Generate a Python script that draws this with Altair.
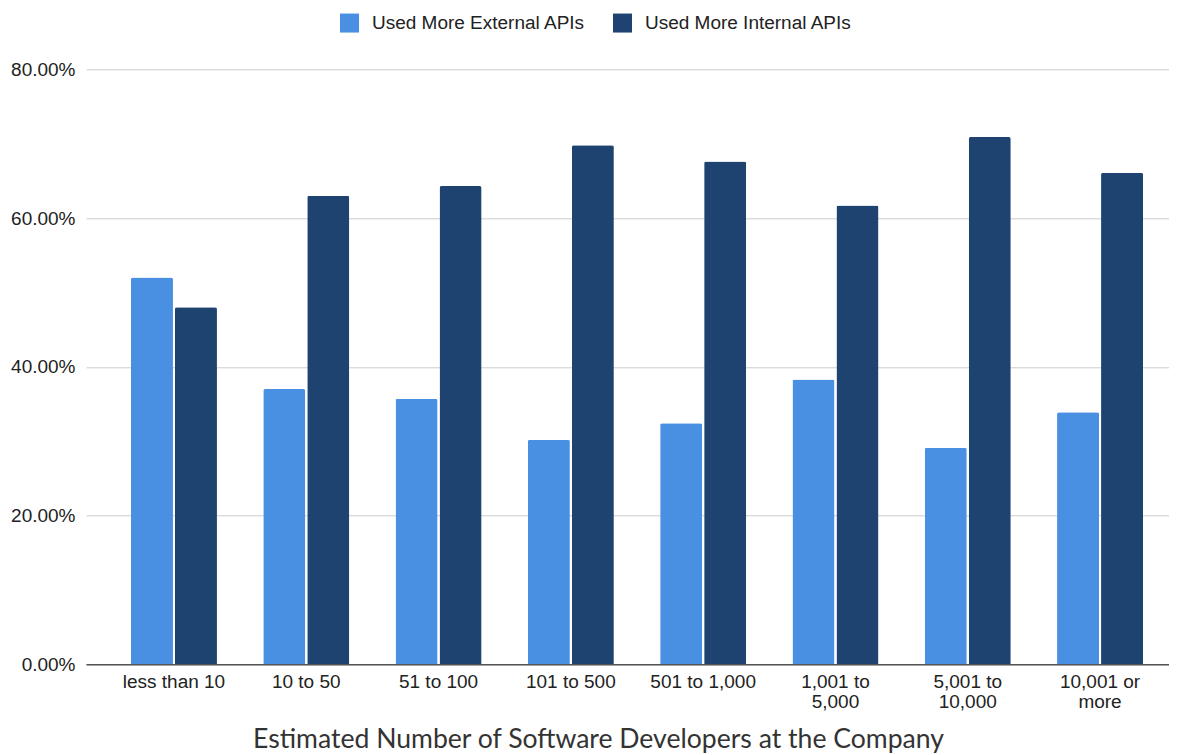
import altair as alt
import pandas as pd

categories = ["less than 10", "10 to 50", "51 to 100", "101 to 500",
              "501 to 1,000", "1,001 to 5,000", "5,001 to 10,000", "10,001 or more"]
external = [0.520, 0.370, 0.357, 0.302, 0.324, 0.383, 0.291, 0.339]
internal = [0.480, 0.630, 0.643, 0.698, 0.676, 0.617, 0.709, 0.661]
series = ["Used More External APIs", "Used More Internal APIs"]
colors = ["#4a90e2", "#1f4370"]
label_lines = {
    "1,001 to 5,000": ["1,001 to", "5,000"],
    "5,001 to 10,000": ["5,001 to", "10,000"],
    "10,001 or more": ["10,001 or", "more"],
}

rows = []
for c, e, i in zip(categories, external, internal):
    rows.append({"group": c, "series": series[0], "value": e})
    rows.append({"group": c, "series": series[1], "value": i})
df = pd.DataFrame(rows)

expr = ""
for k, v in label_lines.items():
    expr += f"datum.value == '{k}' ? ['{v[0]}', '{v[1]}'] : "
expr += "datum.value"

chart = alt.Chart(df).mark_bar(
    cornerRadiusTopLeft=2, cornerRadiusTopRight=2
).encode(
    x=alt.X("group:N", sort=categories,
            scale=alt.Scale(paddingInner=0.35, paddingOuter=0.268, align=0.634),
            axis=alt.Axis(title="Estimated Number of Software Developers at the Company",
                          labelExpr=expr, labelAngle=0, labelFont="Liberation Sans",
                          labelFontSize=19, labelColor="#222222", labelLineHeight=20,
                          labelPadding=8, ticks=False, domainColor="#555555",
                          domainWidth=1.5, grid=False,
                          titleFont="Lato", titleFontSize=26.6, titleFontWeight="normal",
                          titleColor="#333333", titleX=512, titleY=83.5,
                          titleAlign="center", titleBaseline="alphabetic")),
    xOffset=alt.XOffset("series:N", sort=series,
                        scale=alt.Scale(paddingInner=0.045, paddingOuter=0)),
    y=alt.Y("value:Q", scale=alt.Scale(domain=[0, 0.8], nice=False),
            axis=alt.Axis(title=None, format=".2%", values=[0, 0.2, 0.4, 0.6, 0.8],
                          labelFont="Liberation Sans", labelFontSize=19,
                          labelColor="#222222", labelPadding=11, ticks=False,
                          domain=False, gridColor="#cccccc", gridWidth=1)),
    color=alt.Color("series:N", sort=series,
                    scale=alt.Scale(domain=series, range=colors),
                    legend=alt.Legend(title=None, orient="none", direction="horizontal",
                                      legendX=254, legendY=-56,
                                      symbolType="square", symbolSize=361,
                                      symbolStrokeWidth=0, symbolOpacity=1,
                                      labelFont="Liberation Sans", labelFontSize=19,
                                      labelColor="#222222", labelOffset=13,
                                      labelLimit=0, columnPadding=27)),
).properties(
    width=1083, height=595,
    autosize=alt.AutoSizeParams(type="none"),
    padding={"left": 78, "top": 61.3, "right": 0, "bottom": 91},
).configure_view(stroke=None).configure_axisY(zindex=0)

chart.save("out.html", embed_options={"renderer": "svg", "actions": False})
